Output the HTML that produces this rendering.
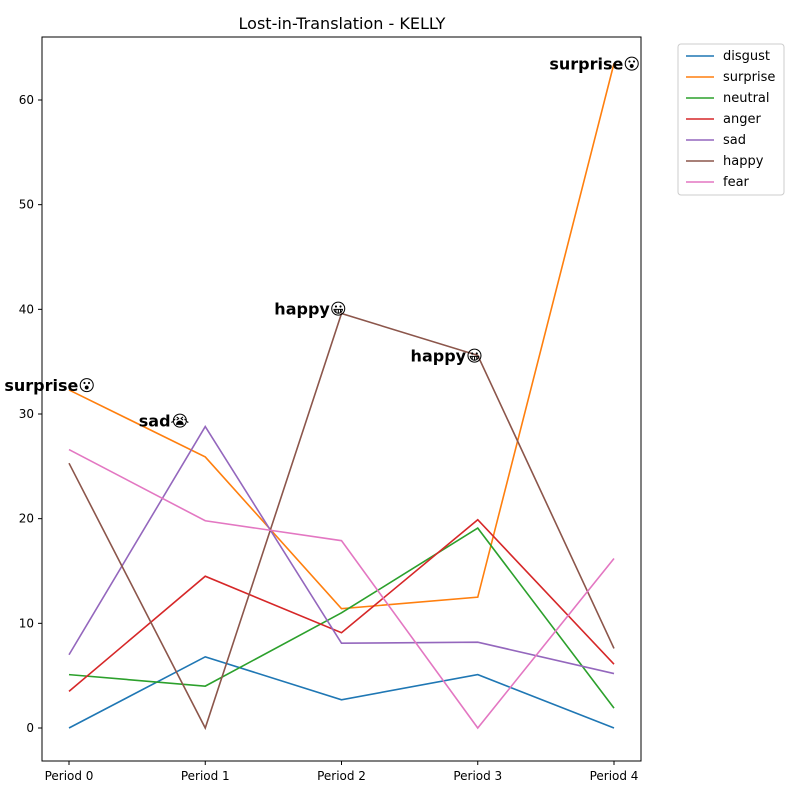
<!DOCTYPE html>
<html><head><meta charset="utf-8"><style>
body{margin:0;background:#fff;font-family:"DejaVu Sans","Liberation Sans",sans-serif}
</style></head><body>
<svg id="chart" width="800" height="800" viewBox="0 0 800 800" xmlns="http://www.w3.org/2000/svg" font-family="DejaVu Sans, Liberation Sans, sans-serif">
<rect width="800" height="800" fill="#fff"/>
<text x="342" y="29" text-anchor="middle" font-size="16" fill="#000">Lost-in-Translation - KELLY</text>
<g id="grid"></g>
<g id="lines"></g>
<g id="annots"></g>
<rect x="42" y="37" width="599" height="724" fill="none" stroke="#000" stroke-width="1"/>
<g id="legend"></g>
</svg>
<script>
const categories=["Period 0","Period 1","Period 2","Period 3","Period 4"];
const seriesNames=["disgust","surprise","neutral","anger","sad","happy","fear"];
const disgust=[0,6.8,2.7,5.1,0];
const surprise=[32.3,25.9,11.4,12.5,63.5];
const neutral=[5.1,4.0,11.0,19.1,1.9];
const anger=[3.5,14.5,9.1,19.9,6.1];
const sad=[7.0,28.8,8.1,8.2,5.2];
const happy=[25.3,0,39.6,35.6,7.6];
const fear=[26.6,19.8,17.9,0,16.2];
const yTicks=[0,10,20,30,40,50,60];
const annotations=[["surprise😮",0],["sad😭",1],["happy😀",2],["happy😀",3],["surprise😮",4]];
const annotDx=[26,-16,5,5,26];
const annotDy=[-5,-6,-5,0,0];
const colors=["#1f77b4","#ff7f0e","#2ca02c","#d62728","#9467bd","#8c564b","#e377c2"];
const data=[disgust,surprise,neutral,anger,sad,happy,fear];
const NS="http://www.w3.org/2000/svg";
const xS=i=>69+i*(614-69)/(categories.length-1);
const yS=v=>728-v*(728-100)/60;
function mk(t,a,p){const e=document.createElementNS(NS,t);for(const k in a)e.setAttribute(k,a[k]);p.appendChild(e);return e;}
const g=document.getElementById('grid');
yTicks.forEach(v=>{const y=yS(v);
mk('line',{x1:38,x2:42,y1:y,y2:y,stroke:'#000'},g);
const t=mk('text',{x:34,y:y+4,'text-anchor':'end','font-size':12},g);t.textContent=v;

});
categories.forEach((c,i)=>{const x=xS(i);
mk('line',{x1:x,x2:x,y1:761,y2:765,stroke:'#000'},g);
const t=mk('text',{x:x,y:780,'text-anchor':'middle','font-size':12},g);t.textContent=c;

});
const L=document.getElementById('lines');
data.forEach((s,k)=>{const p=mk('polyline',{points:s.map((v,i)=>xS(i)+','+yS(v)).join(' '),fill:'none',stroke:colors[k],'stroke-width':1.6},L);

});
const A=document.getElementById('annots');
annotations.forEach(([txt,i],j)=>{const nm=txt.replace(/[^a-z]/g,'');const k=seriesNames.indexOf(nm);
const t=mk('text',{x:xS(i)+annotDx[j],y:yS(data[k][i])+annotDy[j]+6,'text-anchor':'end','font-size':16,'font-weight':'bold'},A);t.textContent=txt;

});
const G=document.getElementById('legend');
const r=mk('rect',{x:678,y:44,width:106,height:151,fill:'#fff',stroke:'#ccc',rx:3},G);


seriesNames.forEach((n,k)=>{const y=56+k*21;
const e=mk('g',{},G);


mk('line',{x1:686,x2:714,y1:y,y2:y,stroke:colors[k],'stroke-width':1.6},e);
const t=mk('text',{x:723,y:y+4,'font-size':13},e);t.textContent=n;});
</script>
</body></html>
